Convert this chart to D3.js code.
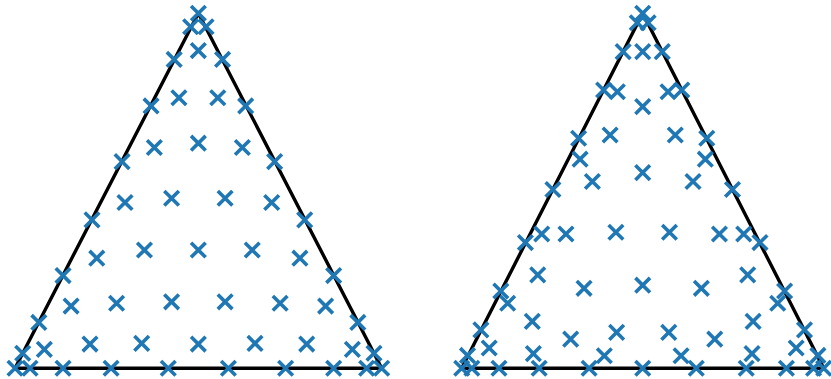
<!DOCTYPE html>
<html>
<head>
<meta charset="utf-8">
<script src="https://cdn.jsdelivr.net/npm/d3@7"></script>
<style>
  html, body { margin: 0; padding: 0; background: #ffffff; }
  svg { display: block; }
</style>
</head>
<body>
<div id="chart"></div>
<script>
// Triangle corners in normalized coordinates (x across, y up)
const triangleX = [0, 1, 0.5];
const triangleY = [0, 0, 1];

// Left panel: 55 nodes
const leftX = [0.5, 0.479, 0.521, 0.5, 0.434, 0.566, 0.371, 0.447, 0.553, 0.629, 0.292, 0.380, 0.5, 0.620, 0.708,
  0.300, 0.427, 0.573, 0.700, 0.210, 0.790, 0.223, 0.353, 0.5, 0.647, 0.777, 0.131, 0.869, 0.153, 0.277, 0.427, 0.573, 0.723, 0.847,
  0.065, 0.935, 0.021, 0.080, 0.2045, 0.3455, 0.5, 0.6545, 0.7955, 0.920, 0.979,
  0, 0.041, 0.131, 0.262, 0.418, 0.582, 0.738, 0.869, 0.959, 1];
const leftY = [1, 0.962, 0.962, 0.895, 0.870, 0.870, 0.739, 0.762, 0.762, 0.739, 0.582, 0.622, 0.634, 0.622, 0.582,
  0.467, 0.479, 0.479, 0.467, 0.418, 0.418, 0.310, 0.333, 0.333, 0.333, 0.310, 0.261, 0.261, 0.175, 0.183, 0.187, 0.187, 0.183, 0.175,
  0.129, 0.129, 0.042, 0.053, 0.068, 0.070, 0.068, 0.070, 0.068, 0.053, 0.042,
  0, 0, 0, 0, 0, 0, 0, 0, 0, 0];

// Right panel: 66 nodes
const rightX = [0.5, 0.485, 0.515, 0.446, 0.5, 0.554, 0.392, 0.608, 0.430, 0.570, 0.5,
  0.323, 0.677, 0.410, 0.590, 0.327, 0.673, 0.361, 0.639, 0.5, 0.252, 0.748,
  0.176, 0.824, 0.221, 0.779, 0.288, 0.712, 0.426, 0.574,
  0.210, 0.790, 0.338, 0.662, 0.5, 0.108, 0.892, 0.127, 0.873,
  0.053, 0.947, 0.195, 0.805, 0.301, 0.699, 0.428, 0.572,
  0.076, 0.924, 0.198, 0.802, 0.394, 0.606, 0.016, 0.984,
  0, 0.028, 0.103, 0.214, 0.352, 0.5, 0.648, 0.786, 0.897, 0.972, 1];
const rightY = [1, 0.9735, 0.9735, 0.892, 0.892, 0.892, 0.784, 0.784, 0.779, 0.779, 0.737,
  0.648, 0.648, 0.657, 0.657, 0.589, 0.589, 0.526, 0.526, 0.551, 0.5035, 0.5035,
  0.354, 0.354, 0.378, 0.378, 0.378, 0.378, 0.383, 0.383,
  0.263, 0.263, 0.225, 0.225, 0.234, 0.2175, 0.2175, 0.183, 0.183,
  0.108, 0.108, 0.132, 0.132, 0.082, 0.082, 0.101, 0.101,
  0.057, 0.057, 0.041, 0.041, 0.035, 0.035, 0.036, 0.036,
  0, 0, 0, 0, 0, 0, 0, 0, 0, 0, 0];

const W = 831, H = 379;
const svg = d3.select("#chart").append("svg")
  .attr("width", W).attr("height", H)
  .style("background", "#ffffff");

const markerColor = "#1f77b4";
const markHalf = 7.3;

function panel(xRange, xs, ys) {
  const x = d3.scaleLinear().domain([0, 1]).range(xRange);
  const y = d3.scaleLinear().domain([0, 1]).range([368.2, 13.3]);
  const g = svg.append("g");
  const corners = triangleX.map((d, i) => [d, triangleY[i]]);
  const line = d3.line().x(d => x(d[0])).y(d => y(d[1])).curve(d3.curveLinearClosed);
  g.append("path")
    .attr("d", line(corners))
    .attr("fill", "none")
    .attr("stroke", "#000")
    .attr("stroke-width", 3.4)
    .attr("stroke-linejoin", "round");
  const pts = xs.map((d, i) => [d, ys[i]]);
  g.selectAll("path.mk").data(pts).join("path")
    .attr("class", "mk")
    .attr("transform", d => `translate(${x(d[0])},${y(d[1])})`)
    .attr("d", `M${-markHalf},${-markHalf}L${markHalf},${markHalf}M${-markHalf},${markHalf}L${markHalf},${-markHalf}`)
    .attr("fill", "none")
    .attr("stroke", markerColor)
    .attr("stroke-width", 3.6)
    .attr("stroke-linecap", "butt");
}

panel([15, 381.7], leftX, leftY);
panel([461.7, 823.7], rightX, rightY);
</script>
</body>
</html>
